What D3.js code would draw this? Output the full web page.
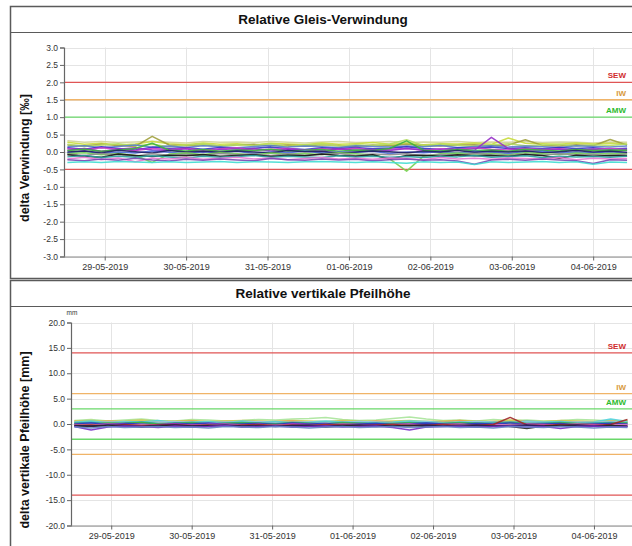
<!DOCTYPE html>
<html><head><meta charset="utf-8">
<script src="https://cdn.jsdelivr.net/npm/d3@7/dist/d3.min.js"></script>
<style>
html,body{margin:0;padding:0;background:#fff;overflow:hidden}
svg{display:block;font-family:"Liberation Sans",Arial,sans-serif}
</style></head><body>
<svg id="c" width="632" height="546"></svg>
<script>
// ---------- DATA ----------
const startTime = new Date(2019, 4, 28, 13);  // first sample
const stepHours = 5;                          // sample interval
const dateTicks = ["29-05-2019","30-05-2019","31-05-2019","01-06-2019","02-06-2019","03-06-2019","04-06-2019"];

const twistTicks = [3.0,2.5,2.0,1.5,1.0,0.5,0.0,-0.5,-1.0,-1.5,-2.0,-2.5,-3.0];
const twistLimits = [
  {name:"SEW", value:2.0, color:"#e05555", text:"#d02c2c", label:true},
  {name:"IW",  value:1.5, color:"#f0b468", text:"#d89a3c", label:true},
  {name:"AMW", value:1.0, color:"#6ad86a", text:"#2cbb2c", label:true},
  {name:"SEW", value:-0.5, color:"#e05555", text:"#d02c2c", label:false}
];
const twistColors = ["#d2d296","#c8dc3c","#a0a03c","#b4dc64","#5a82c8","#3232c8","#c83cc8","#9630c8","#3cb43c","#4b6edc","#1e1e64","#78d250","#8c8c8c","#141414","#28a0a0","#e678d2","#7846b4","#40dcd2"];
const twistSeries = [
 [0.32,0.28,0.3,0.27,0.29,0.31,0.28,0.26,0.3,0.28,0.29,0.27,0.3,0.28,0.26,0.29,0.3,0.27,0.28,0.3,0.27,0.29,0.28,0.3,0.27,0.29,0.28,0.3,0.27,0.29,0.28,0.26,0.29,0.28],
 [0.28,0.22,0.25,0.2,0.23,0.3,0.24,0.21,0.26,0.22,0.24,0.2,0.25,0.23,0.21,0.26,0.22,0.24,0.27,0.22,0.25,0.21,0.24,0.23,0.26,0.22,0.4,0.25,0.24,0.22,0.26,0.23,0.25,0.22],
 [0.2,0.17,0.22,0.19,0.16,0.45,0.2,0.18,0.21,0.17,0.2,0.22,0.18,0.2,0.17,0.21,0.19,0.16,0.2,0.18,0.22,0.19,0.17,0.2,0.21,0.18,0.2,0.35,0.19,0.17,0.21,0.18,0.36,0.2],
 [0.22,0.16,0.2,0.24,0.18,0.22,0.15,0.2,0.23,0.17,0.21,0.19,0.24,0.16,0.2,0.22,0.17,0.21,0.19,0.23,0.35,0.18,0.22,0.2,0.16,0.21,0.24,0.18,0.2,0.22,0.17,0.21,0.19,0.23],
 [0.15,0.18,0.12,0.16,0.2,0.14,0.17,0.13,0.18,0.15,0.12,0.16,0.19,0.14,0.17,0.15,0.13,0.18,0.16,0.14,0.17,0.15,0.19,0.13,0.16,0.18,0.14,0.17,0.15,0.13,0.18,0.16,0.14,0.17],
 [0.12,0.08,0.15,0.1,0.06,0.14,0.1,0.12,0.08,0.13,0.09,0.11,0.14,0.1,0.07,0.12,0.1,0.13,0.09,0.11,0.15,0.1,0.08,0.12,0.11,0.14,0.1,0.12,0.09,0.13,0.1,0.12,0.08,0.11],
 [0.1,0.06,0.12,0.08,0.04,0.1,0.07,0.11,0.05,0.09,0.12,0.06,0.08,0.1,0.05,0.09,0.07,0.11,0.06,0.08,0.1,0.05,0.09,0.07,0.12,0.08,0.06,0.1,0.07,0.09,0.05,0.08,0.1,0.07],
 [0.05,0.1,0.02,0.08,0.12,0.06,0.04,0.09,0.0,0.07,0.05,0.1,0.03,0.08,0.06,0.02,0.09,0.05,0.07,0.04,0.1,0.06,0.03,0.08,0.05,0.42,0.1,0.06,0.04,0.08,0.05,0.07,0.03,0.06],
 [0.04,0.08,0.02,0.06,0.1,0.25,0.05,0.03,0.07,0.02,0.06,0.04,0.08,0.03,0.05,0.07,0.02,0.06,0.04,0.1,0.32,0.05,0.03,0.07,0.04,0.06,0.02,0.08,0.05,0.03,0.07,0.04,0.06,0.05],
 [-0.02,0.02,-0.04,0.0,-0.03,0.03,-0.01,-0.05,0.01,-0.02,0.02,-0.04,0.0,-0.02,0.03,-0.03,0.0,-0.01,0.02,-0.04,0.0,-0.02,0.01,-0.03,0.02,-0.01,-0.04,0.0,0.02,-0.03,0.0,-0.02,0.01,-0.03],
 [0.0,0.03,-0.02,0.05,0.01,-0.03,0.04,0.0,0.02,-0.01,0.03,0.0,-0.02,0.04,0.01,0.02,-0.03,0.0,0.03,0.01,-0.02,0.02,0.0,0.04,-0.01,0.02,0.0,0.03,-0.02,0.01,0.04,0.0,0.02,-0.01],
 [-0.05,-0.02,-0.08,-0.04,-0.1,-0.3,-0.06,-0.03,-0.07,-0.02,-0.05,-0.08,-0.03,-0.06,-0.04,-0.07,-0.02,-0.05,-0.08,-0.2,-0.55,-0.12,-0.05,-0.03,-0.06,-0.04,-0.08,-0.02,-0.05,-0.07,-0.03,-0.06,-0.04,-0.05],
 [-0.06,-0.1,-0.04,-0.08,-0.12,-0.05,-0.09,-0.07,-0.11,-0.04,-0.08,-0.06,-0.1,-0.05,-0.09,-0.07,-0.04,-0.1,-0.06,-0.08,-0.05,-0.11,-0.07,-0.09,-0.04,-0.08,-0.1,-0.06,-0.09,-0.05,-0.08,-0.07,-0.1,-0.06],
 [-0.08,-0.12,-0.15,-0.06,-0.1,-0.13,-0.09,-0.11,-0.07,-0.12,-0.1,-0.08,-0.13,-0.09,-0.11,-0.06,-0.1,-0.12,-0.08,-0.2,-0.1,-0.09,-0.12,-0.08,-0.11,-0.1,-0.13,-0.07,-0.1,-0.18,-0.09,-0.12,-0.1,-0.11],
 [-0.14,-0.1,-0.16,-0.12,-0.15,-0.11,-0.14,-0.17,-0.12,-0.15,-0.13,-0.1,-0.15,-0.12,-0.14,-0.16,-0.11,-0.14,-0.12,-0.15,-0.13,-0.16,-0.12,-0.14,-0.1,-0.15,-0.13,-0.11,-0.16,-0.12,-0.14,-0.13,-0.15,-0.12],
 [-0.2,-0.15,-0.22,-0.17,-0.28,-0.18,-0.2,-0.16,-0.21,-0.18,-0.15,-0.2,-0.17,-0.22,-0.19,-0.16,-0.2,-0.18,-0.21,-0.17,-0.19,-0.22,-0.16,-0.2,-0.18,-0.21,-0.17,-0.19,-0.2,-0.16,-0.22,-0.18,-0.2,-0.19],
 [-0.22,-0.25,-0.2,-0.24,-0.18,-0.23,-0.26,-0.21,-0.24,-0.2,-0.23,-0.25,-0.19,-0.22,-0.24,-0.2,-0.23,-0.21,-0.25,-0.22,-0.2,-0.24,-0.22,-0.26,-0.35,-0.23,-0.21,-0.24,-0.2,-0.23,-0.25,-0.33,-0.22,-0.24],
 [-0.3,-0.28,-0.3,-0.27,-0.29,-0.3,-0.28,-0.3,-0.29,-0.27,-0.3,-0.28,-0.29,-0.3,-0.28,-0.27,-0.29,-0.3,-0.28,-0.3,-0.32,-0.28,-0.3,-0.29,-0.36,-0.28,-0.3,-0.29,-0.27,-0.3,-0.28,-0.35,-0.29,-0.3]
];

const arrowTicks = [20,15,10,5,0,-5,-10,-15,-20];
const arrowLimits = [
  {name:"SEW", value:14, color:"#e05555", text:"#d02c2c", label:true},
  {name:"IW",  value:6,  color:"#f0b468", text:"#d89a3c", label:true},
  {name:"AMW", value:3,  color:"#6ad86a", text:"#2cbb2c", label:true},
  {name:"AMW", value:-3, color:"#6ad86a", text:"#2cbb2c", label:false},
  {name:"IW",  value:-6, color:"#f0b468", text:"#d89a3c", label:false},
  {name:"SEW", value:-14,color:"#e05555", text:"#d02c2c", label:false}
];
const arrowColors = ["#a8e49a","#d2c850","#e6a050","#50d2dc","#96c8e6","#28a0a0","#3cb43c","#3232c8","#c83cc8","#dc8cb4","#a02828","#1e1e64","#282828","#7830c8","#6482c8"];
const arrowSeries = [
 [0.7,0.9,0.6,0.8,1.0,0.7,0.6,0.9,0.8,0.6,0.7,0.9,0.8,1.0,1.1,1.3,0.9,0.7,0.8,1.1,1.4,1.0,0.7,0.8,0.6,0.9,0.7,0.8,0.6,0.7,0.9,0.8,0.6,0.7],
 [0.6,0.7,0.5,0.6,0.8,0.5,0.6,0.7,0.5,0.6,0.7,0.6,0.5,0.7,0.6,0.5,0.7,0.6,0.5,0.6,0.7,0.5,0.6,0.7,0.6,0.5,0.8,0.6,0.5,0.7,0.6,0.5,0.7,0.6],
 [0.5,0.3,0.6,0.4,0.2,0.5,0.4,0.6,0.3,0.5,0.4,0.2,0.5,0.6,0.3,0.4,0.5,0.3,0.6,0.4,0.3,0.5,0.4,0.7,0.3,0.5,0.4,0.6,0.3,0.5,0.4,0.3,0.5,0.4],
 [0.4,0.6,0.3,0.5,0.4,0.7,0.3,0.4,0.5,0.3,0.6,0.4,0.5,0.3,0.4,0.6,0.4,0.5,0.3,0.4,0.6,0.5,0.3,0.4,0.5,0.4,0.3,0.6,0.4,0.5,0.3,0.4,1.0,0.5],
 [0.3,0.2,0.4,0.3,0.2,0.4,0.5,0.3,0.2,0.4,0.3,0.5,0.2,0.3,0.4,0.2,0.3,0.5,0.4,0.2,0.3,0.4,0.2,0.3,0.5,0.3,0.2,0.4,0.3,0.2,0.4,0.3,0.5,0.3],
 [0.2,0.3,0.1,0.2,0.4,0.1,0.2,0.3,0.1,0.2,0.3,0.2,0.1,0.3,0.2,0.1,0.3,0.2,0.2,0.1,0.3,0.2,0.1,0.3,0.2,0.2,0.4,0.1,0.2,0.3,0.1,0.2,0.3,0.2],
 [0.1,0.0,0.2,0.1,0.3,0.0,0.1,0.2,0.0,0.1,0.2,0.1,0.0,0.2,0.1,0.0,0.2,0.1,0.0,0.1,0.2,0.0,0.1,0.2,0.1,0.0,0.2,0.1,0.0,0.2,0.1,0.0,0.1,0.2],
 [0.0,0.2,-0.1,0.1,0.0,-0.2,0.1,0.0,0.2,-0.1,0.0,0.1,-0.1,0.2,0.0,0.1,-0.2,0.0,0.1,-0.1,0.0,0.2,0.0,-0.1,0.1,0.0,0.2,-0.1,0.0,0.1,-0.2,0.0,0.1,0.0],
 [-0.1,-0.2,0.0,-0.1,-0.3,-0.1,0.0,-0.2,-0.1,0.0,-0.2,-0.1,-0.3,0.0,-0.1,-0.2,0.0,-0.1,-0.2,-0.1,0.0,-0.2,-0.1,0.0,-0.3,-0.1,-0.2,0.0,-0.1,-0.2,0.0,-0.1,-0.2,-0.1],
 [-0.2,-0.1,-0.3,-0.2,-0.1,-0.3,-0.2,-0.4,-0.1,-0.2,-0.3,-0.1,-0.2,-0.3,-0.2,-0.1,-0.3,-0.2,-0.4,-0.2,-0.1,-0.3,-0.2,-0.1,-0.2,-0.3,-0.1,-0.2,-0.3,-0.2,-0.1,-0.3,-0.2,-0.2],
 [-0.3,-0.2,-0.4,-0.1,-0.3,-0.2,-0.1,-0.3,-0.2,-0.4,-0.2,-0.1,-0.3,-0.2,-0.3,-0.1,-0.2,-0.3,-0.2,-0.1,-0.3,-0.2,-0.1,-0.3,-0.2,-0.1,1.3,-0.2,-0.3,-0.1,-0.2,-0.3,-0.1,0.9],
 [-0.3,-0.4,-0.2,-0.3,-0.5,-0.3,-0.2,-0.4,-0.3,-0.2,-0.4,-0.3,-0.5,-0.3,-0.2,-0.4,-0.3,-0.2,-0.3,-0.4,-0.3,-0.2,-0.4,-0.3,-0.2,-0.4,-0.3,-0.2,-0.4,-0.3,-0.2,-0.4,-0.3,-0.5],
 [-0.4,-0.5,-0.3,-0.4,-0.6,-0.4,-0.3,-0.5,-0.4,-0.3,-0.5,-0.4,-0.3,-0.5,-0.4,-0.6,-0.4,-0.3,-0.5,-0.4,-0.3,-0.5,-0.4,-0.3,-0.5,-0.4,-0.5,-0.9,-0.4,-0.3,-0.5,-0.4,-0.3,-0.4],
 [-0.5,-1.2,-0.6,-0.4,-0.5,-0.7,-0.4,-0.6,-0.5,-0.3,-0.6,-0.5,-0.4,-0.6,-0.5,-0.4,-0.6,-0.5,-0.4,-0.7,-1.2,-0.6,-0.5,-0.4,-0.6,-0.5,-0.4,-0.6,-0.5,-0.9,-0.5,-0.4,-0.6,-0.5],
 [-0.6,-0.8,-0.5,-0.7,-0.6,-0.5,-0.7,-0.6,-0.8,-0.5,-0.6,-0.7,-0.5,-0.6,-0.8,-0.6,-0.5,-0.7,-0.6,-0.5,-0.7,-0.6,-0.5,-0.7,-0.6,-0.8,-0.5,-0.6,-0.7,-0.5,-0.6,-0.8,-0.6,-0.7]
];

// ---------- DRAW ----------
const svg = d3.select("#c");
const domainStart = new Date(2019, 4, 28, 12);
const domainEnd = new Date(2019, 5, 4, 20);
const parseTick = d3.timeParse("%d-%m-%Y");
const fmt = d3.timeFormat("%d-%m-%Y");

function panel(cfg) {
  const g = svg.append("g");
  // frame
  g.append("rect").attr("x", 10.5).attr("y", cfg.top + 0.5).attr("width", 640).attr("height", cfg.height)
    .attr("fill", "none").attr("stroke", "#5a5a5a").attr("stroke-width", 1.5);
  g.append("line").attr("x1", 10).attr("x2", 650).attr("y1", cfg.top + 26.5).attr("y2", cfg.top + 26.5)
    .attr("stroke", "#5a5a5a").attr("stroke-width", 1.2);
  g.append("text").attr("x", 323).attr("y", cfg.top + 18).attr("text-anchor", "middle")
    .attr("font-size", 13.5).attr("font-weight", "bold").attr("fill", "#111").text(cfg.title);

  const x = d3.scaleTime().domain([domainStart, domainEnd]).range([cfg.left, 661]);
  const y = d3.scaleLinear().domain([d3.min(cfg.ticks), d3.max(cfg.ticks)]).range([cfg.y1, cfg.y0]);
  const tickDates = dateTicks.map(parseTick);

  // grid
  g.append("g").selectAll("line").data(cfg.ticks).join("line")
    .attr("x1", cfg.left).attr("x2", 640).attr("y1", d => Math.round(y(d)) + 0.5).attr("y2", d => Math.round(y(d)) + 0.5)
    .attr("stroke", "#e4e4e4").attr("stroke-width", 1);
  g.append("g").selectAll("line").data(tickDates).join("line")
    .attr("x1", d => Math.round(x(d)) + 0.5).attr("x2", d => Math.round(x(d)) + 0.5)
    .attr("y1", cfg.y0).attr("y2", cfg.y1)
    .attr("stroke", "#e4e4e4").attr("stroke-width", 1);

  // limit lines
  g.append("g").selectAll("line").data(cfg.limits).join("line")
    .attr("x1", cfg.left).attr("x2", 640).attr("y1", d => y(d.value)).attr("y2", d => y(d.value))
    .attr("stroke", d => d.color).attr("stroke-width", 1.3);
  g.append("g").selectAll("text").data(cfg.limits.filter(d => d.label)).join("text")
    .attr("x", 626).attr("y", d => y(d.value) - 4).attr("text-anchor", "end")
    .attr("font-size", 8).attr("font-weight", "bold").attr("fill", d => d.text).text(d => d.name);

  // data
  const clipId = "clip" + cfg.top;
  svg.append("clipPath").attr("id", clipId).append("rect")
    .attr("x", cfg.left).attr("y", cfg.y0).attr("width", 640 - cfg.left).attr("height", cfg.y1 - cfg.y0);
  const line = d3.line().x((d, i) => x(d3.timeHour.offset(startTime, i * stepHours))).y(d => y(d));
  g.append("g").attr("clip-path", `url(#${clipId})`).selectAll("path").data(cfg.series).join("path")
    .attr("d", line).attr("fill", "none")
    .attr("stroke", (d, i) => cfg.colors[i % cfg.colors.length])
    .attr("stroke-width", 1.5).attr("stroke-opacity", 0.9).attr("stroke-linejoin", "round");

  // axes
  const ya = d3.axisLeft(y).tickValues(cfg.ticks).tickSize(4).tickPadding(2).tickFormat(d => d.toFixed(1));
  const yg = g.append("g").attr("transform", `translate(${cfg.left},0)`).call(ya);
  yg.select(".domain").attr("stroke", "#666").attr("stroke-width", 1.2);
  yg.selectAll(".tick line").attr("stroke", "#666");
  yg.selectAll("text").attr("font-size", 8.5).attr("fill", "#333").attr("font-family", "Liberation Sans, Arial, sans-serif");

  const xa = d3.axisBottom(x).tickValues(tickDates).tickSize(4).tickPadding(3).tickFormat(fmt);
  const xg = g.append("g").attr("transform", `translate(0,${cfg.y1})`).call(xa);
  xg.select(".domain").attr("stroke", "#888").attr("stroke-width", 1.2).attr("d", `M${cfg.left},0.5H640`);
  xg.selectAll(".tick line").attr("stroke", "#666");
  xg.selectAll("text").attr("font-size", 9).attr("fill", "#333").attr("font-family", "Liberation Sans, Arial, sans-serif");

  // axis title
  g.append("text").attr("transform", `translate(${cfg.titleX},${cfg.titleY}) rotate(-90)`)
    .attr("text-anchor", "middle").attr("font-size", 12.5).attr("font-weight", "bold").attr("fill", "#111")
    .text(cfg.ylabel);
  if (cfg.unit) {
    g.append("text").attr("x", cfg.left + 1).attr("y", cfg.y0 - 8).attr("text-anchor", "middle")
      .attr("font-size", 6.5).attr("fill", "#333").text(cfg.unit);
  }
}

panel({top: 6, height: 272, title: "Relative Gleis-Verwindung", left: 64, y0: 47.5, y1: 256.5,
  ticks: twistTicks, limits: twistLimits, series: twistSeries, colors: twistColors,
  ylabel: "delta Verwindung [‰]", titleX: 29, titleY: 158});
panel({top: 280, height: 280, title: "Relative vertikale Pfeilhöhe", left: 71, y0: 322.5, y1: 525.5,
  ticks: arrowTicks, limits: arrowLimits, series: arrowSeries, colors: arrowColors,
  ylabel: "delta vertikale Pfeilhöhe [mm]", titleX: 29, titleY: 440, unit: "mm"});
</script>
</body></html>
